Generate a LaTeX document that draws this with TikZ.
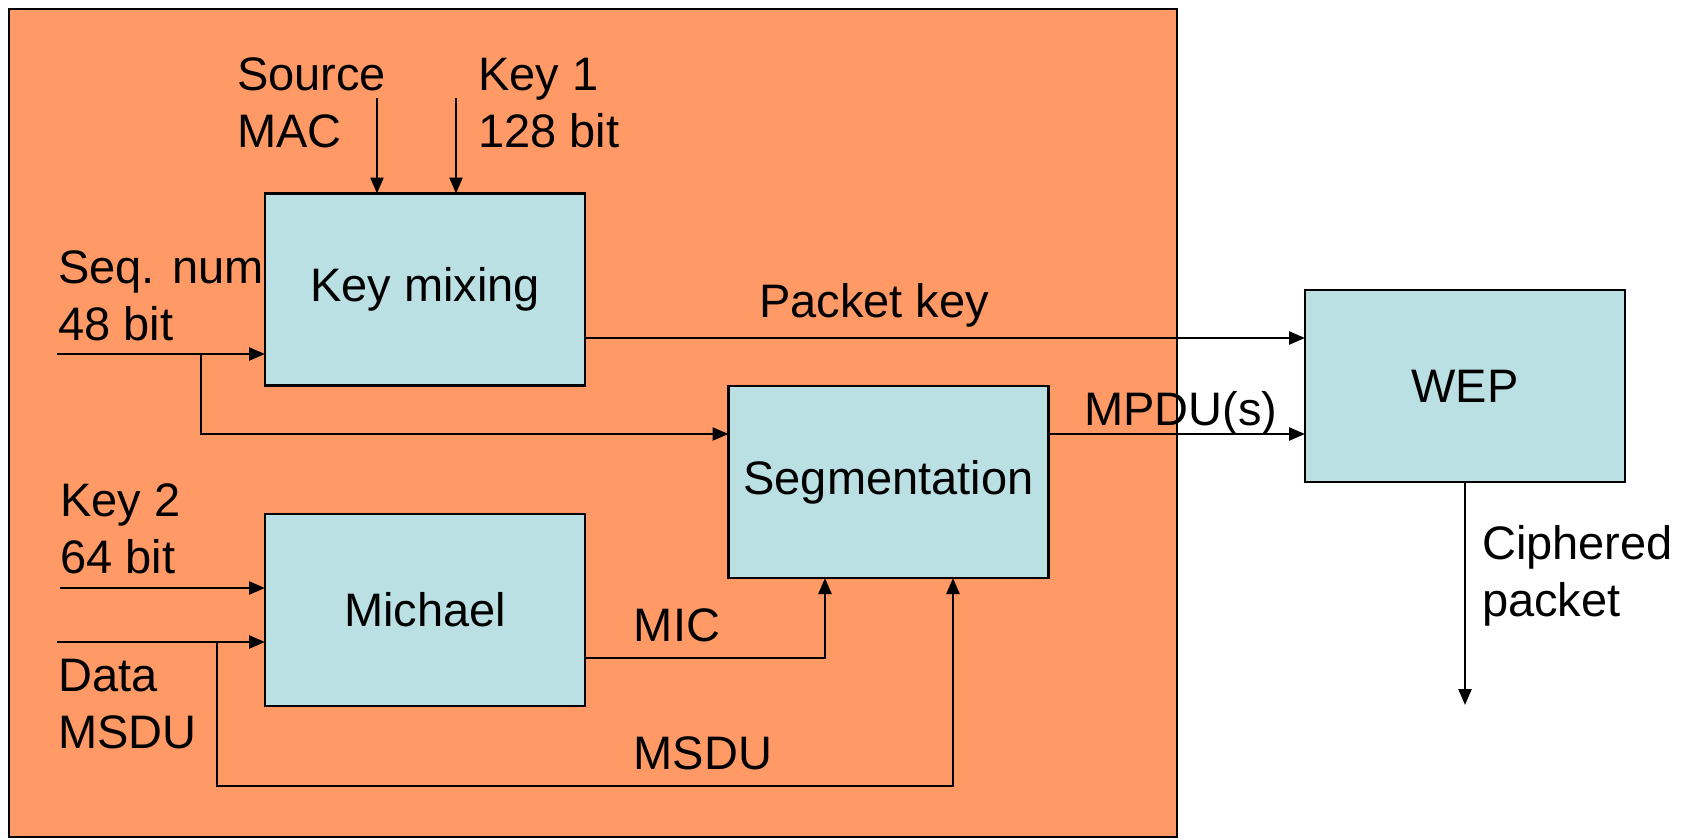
\documentclass[tikz,border=0pt]{standalone}
\usepackage{fontspec}
\setmainfont{Liberation Sans}
\usetikzlibrary{arrows.meta}
\definecolor{bgorange}{RGB}{255,153,102}
\definecolor{boxblue}{RGB}{187,224,227}
\begin{document}
\begin{tikzpicture}[x=1pt,y=-1pt,
  blk/.style={draw=black,fill=boxblue,line width=2.2pt,minimum width=320pt,minimum height=192pt,inner sep=0pt,outer sep=0pt,font=\fontsize{47}{57}\selectfont},
  lbl/.style={inner sep=0pt,font=\fontsize{47}{57}\selectfont,align=left},
  arr/.style={line width=2.4pt,-{Triangle[length=16pt,width=13pt]}},
  ln/.style={line width=2.4pt}]
\useasboundingbox (0,0) rectangle (1689,839);
\fill[white] (0,0) rectangle (1689,839);
\draw[fill=bgorange,line width=2.5pt] (9,9) rectangle (1177,837);

\node[blk] (km) at (425,289.5) {Key mixing};
\node[blk] (seg) at (888.5,482) {Segmentation};
\node[blk] (wep) at (1465,386) {WEP};
\node[blk] (mich) at (425,610) {Michael};

% coordinates
\coordinate (smac) at (377,98);
\coordinate (key1) at (456,98);
\coordinate (seqin) at (57,354);
\coordinate (sb) at (201,354);
\coordinate (segy) at (0,434);
\coordinate (pky) at (0,338);
\coordinate (out) at (1465,705);
\coordinate (k2in) at (60,588);
\coordinate (datain) at (57,642);
\coordinate (db) at (217,642);
\coordinate (msx) at (953,786);
\coordinate (micy) at (0,658);
\coordinate (micx) at (825,0);

% connectors
\draw[arr] (smac) -- (smac |- km.north);
\draw[arr] (key1) -- (key1 |- km.north);
\draw[arr] (seqin) -- (seqin -| km.west);
\draw[arr] (sb) |- (seg.west |- segy);
\draw[arr] (km.east |- pky) -- (wep.west |- pky);
\draw[arr] (seg.east |- segy) -- (wep.west |- segy);
\draw[arr] (wep.south) -- (out);
\draw[arr] (k2in) -- (k2in -| mich.west);
\draw[arr] (datain) -- (datain -| mich.west);
\draw[arr] (db) |- (msx) -- (msx |- seg.south);
\draw[arr] (mich.east |- micy) -| (micx |- seg.south);

% labels
\node[lbl,anchor=west] (lsmac) at (237,103) {Source\\MAC};
\node[lbl,anchor=west] (lkey1) at (478,103) {Key 1\\128 bit};
\node[lbl,anchor=west] (lseq) at (58,296) {Seq. num\\48 bit};
\node[lbl,anchor=west] (lkey2) at (60,529) {Key 2\\64 bit};
\node[lbl,anchor=west] (ldata) at (58,704) {Data\\MSDU};
\node[lbl] (lpk) at (874,305) {Packet key};
\node[lbl] (lmpdu) at (1181,413) {MPDU(s)};
\node[lbl,anchor=west] (lciph) at (1482,576) {Ciphered\\packet};
\node[lbl] (lmic) at (677,625) {MIC};
\node[lbl] (lmsdu) at (703,753) {MSDU};
\end{tikzpicture}
\end{document}
